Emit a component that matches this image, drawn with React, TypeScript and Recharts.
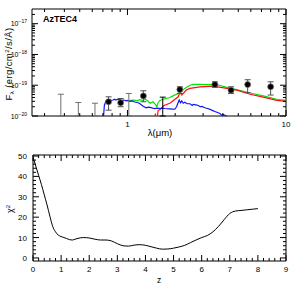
import React from "react";
import { ComposedChart, Line, Scatter, XAxis, YAxis, ErrorBar, ReferenceArea } from "recharts";

const FONT = "'Liberation Sans', Arial, sans-serif";

// ---- SED panel (wavelength in micron, flux in erg/cm2/s/A) ----
const blueLam = [0.7, 0.715, 0.73, 0.745, 0.76, 0.776, 0.79, 0.81, 0.83, 0.846, 0.87, 0.897, 0.92, 0.95, 0.98, 1.0, 1.04, 1.07, 1.1, 1.13, 1.17, 1.2, 1.25, 1.31, 1.35, 1.39, 1.44, 1.49, 1.55, 1.6, 1.66, 1.72, 1.78, 1.85, 1.92, 1.99, 2.04, 2.08, 2.12, 2.16, 2.2, 2.25, 2.3, 2.38, 2.48, 2.56, 2.6, 2.7, 2.8, 2.87, 2.95, 3.08, 3.2, 3.31, 3.45, 3.56, 3.7, 3.83, 3.95, 4.0, 4.12, 4.25, 4.37];
const blueFlux = [5e-21, 2.2e-20, 3.0e-20, 3.3e-20, 3.1e-20, 3.4e-20, 3.2e-20, 3.3e-20, 3.5e-20, 3.3e-20, 3.5e-20, 3.4e-20, 3.2e-20, 3.3e-20, 3.1e-20, 3.2e-20, 3.0e-20, 3.1e-20, 2.9e-20, 2.8e-20, 2.7e-20, 2.5e-20, 2.1e-20, 1.85e-20, 1.95e-20, 1.9e-20, 1.8e-20, 1.75e-20, 1.8e-20, 1.75e-20, 1.8e-20, 1.75e-20, 1.72e-20, 1.7e-20, 1.68e-20, 1.66e-20, 2.0e-20, 2.6e-20, 3.3e-20, 2.7e-20, 3.1e-20, 2.6e-20, 2.8e-20, 2.5e-20, 2.5e-20, 2.2e-20, 2.4e-20, 2.3e-20, 2.2e-20, 2.0e-20, 2.05e-20, 1.85e-20, 1.75e-20, 1.65e-20, 1.5e-20, 1.4e-20, 1.3e-20, 1.2e-20, 1.05e-20, 1.12e-20, 1.05e-20, 0.98e-20, 0.9e-20];

const greenLam = [1.0, 1.05, 1.1, 1.15, 1.2, 1.25, 1.3, 1.35, 1.39, 1.45, 1.5, 1.53, 1.56, 1.6, 1.68, 1.75, 1.85, 1.95, 2.09, 2.17, 2.25, 2.35, 2.48, 2.6, 2.87, 3.1, 3.48, 3.8, 4.23, 4.89, 5.93, 7.19, 8.74, 10];
const greenFlux = [3.1e-20, 3.2e-20, 3.3e-20, 3.1e-20, 3.4e-20, 3.2e-20, 3.5e-20, 3.0e-20, 2.6e-20, 2.9e-20, 2.4e-20, 2.0e-20, 2.7e-20, 3.2e-20, 3.5e-20, 3.7e-20, 4.0e-20, 4.6e-20, 5.4e-20, 6.0e-20, 7.2e-20, 8.5e-20, 1.0e-19, 1.06e-19, 1.07e-19, 1.05e-19, 1.07e-19, 1.0e-19, 0.85e-19, 0.72e-19, 0.56e-19, 0.45e-19, 0.35e-19, 0.32e-19];

const redLam = [1.47, 1.5, 1.53, 1.56, 1.6, 1.7, 1.85, 1.95, 2.09, 2.15, 2.2, 2.25, 2.35, 2.48, 2.87, 3.48, 4.23, 4.89, 5.93, 7.19, 8.74, 10];
const redFlux = [5e-21, 1.2e-20, 6e-21, 1.5e-20, 1.6e-20, 2.2e-20, 2.6e-20, 3.2e-20, 4.2e-20, 6.0e-20, 4.8e-20, 5.4e-20, 7.0e-20, 7.9e-20, 8.9e-20, 9.3e-20, 7.9e-20, 6.9e-20, 5.1e-20, 4.1e-20, 3.2e-20, 3.0e-20];

// detections: wavelength, flux, lower / upper error
const detLam = [0.76, 0.906, 1.26, 2.14, 3.56, 4.5, 5.73, 8.0];
const detFlux = [2.9e-20, 2.7e-20, 4.5e-20, 7.2e-20, 1.05e-19, 6.9e-20, 1.05e-19, 8.9e-20];
const detErrLo = [1.35e-20, 0.7e-20, 1.6e-20, 1.8e-20, 0.2e-19, 1.5e-20, 4.7e-20, 4.1e-20];
const detErrHi = [1.3e-20, 1.0e-20, 2.1e-20, 1.7e-20, 0.24e-19, 2.0e-20, 4.6e-20, 4.0e-20];

// upper limits (grey) and one black limit
const limLam = [0.38, 0.49, 0.624, 1.02];
const limTop = [5.1e-20, 2.75e-20, 2.6e-20, 5.4e-20];
const blackLimLam = [1.67];
const blackLimTop = [4.1e-20];

const FLOOR = 1e-20;
const sedXDomain = [0.25, 10];
const sedYDomain = [1e-20, 3e-17];
const sedXMajor = [1, 10];
const sedXTicks = [0.3, 0.4, 0.5, 0.6, 0.7, 0.8, 0.9, 1, 2, 3, 4, 5, 6, 7, 8, 9, 10];
const sedYMajor = [1e-20, 1e-19, 1e-18, 1e-17];
const sedYExp = ["−20", "−19", "−18", "−17"];
const sedYTicks = sedYMajor.flatMap((m) => [1, 2, 3, 4, 5, 6, 7, 8, 9].map((k) => m * k)).filter((v) => v <= 2.01e-17);

// ---- chi2 vs redshift panel ----
const zVals = [0, 0.1, 0.2, 0.3, 0.4, 0.5, 0.6, 0.7, 0.8, 0.9, 1.0, 1.1, 1.2, 1.3, 1.4, 1.5, 1.6, 1.8, 2.0, 2.2, 2.4, 2.6, 2.8, 3.0, 3.2, 3.4, 3.6, 3.8, 4.0, 4.2, 4.4, 4.6, 4.8, 5.0, 5.2, 5.4, 5.6, 5.8, 6.0, 6.2, 6.4, 6.6, 6.8, 7.0, 7.2, 7.4, 7.6, 7.8, 8.0];
const chiVals = [49.5, 45, 40.5, 36, 31, 26, 20.5, 15.5, 12.8, 11.2, 10.5, 10, 9.5, 9, 8.8, 9.2, 9.6, 10, 9.8, 9.2, 8.8, 8.8, 8.3, 7, 6, 5.8, 6.3, 6.5, 6.2, 5.5, 4.8, 4.3, 4.4, 4.8, 5.4, 6.2, 7.5, 8.8, 10, 11, 12.8, 15.5, 18.8, 21.8, 23, 23.3, 23.6, 23.9, 24.2];
const zMajor = [0, 1, 2, 3, 4, 5, 6, 7, 8, 9];
const zTicks = zMajor.flatMap((m) => (m < 9 ? [0, 0.2, 0.4, 0.6, 0.8].map((k) => m + k) : [m]));
const chiMajor = [0, 10, 20, 30, 40, 50];
const chiTicks = chiMajor.flatMap((m) => (m < 50 ? [0, 2, 4, 6, 8].map((k) => m + k) : [m]));

const SED = { left: 32, right: 286, top: 9, bottom: 116, height: 145 };
const CHI = { left: 33, right: 286, top: 10, bottom: 116, height: 150 };

const pts = (xs: number[], ys: number[]) => xs.map((x, i) => ({ x, y: ys[i] }));
const blueData = pts(blueLam, blueFlux);
const greenData = pts(greenLam, greenFlux);
const redData = pts(redLam, redFlux);
const detData = detLam.map((x, i) => ({ x, y: detFlux[i], err: [detErrLo[i], detErrHi[i]] }));
const limData = limLam.map((x, i) => ({ x, y: limTop[i], err: [limTop[i] - FLOOR, 0] }));
const blackLimData = blackLimLam.map((x, i) => ({ x, y: blackLimTop[i], err: [blackLimTop[i] - FLOOR, 0] }));
const chiData = pts(zVals, chiVals);

const near = (a: number, list: number[]) =>
  list.findIndex((m) => (m === 0 ? Math.abs(a) < 1e-9 : Math.abs(a - m) / Math.abs(m) < 1e-6));

function SedXTick(p: any) {
  const x = p.x;
  const v = p.payload.value;
  const major = near(v, sedXMajor) >= 0;
  const len = major ? 6 : 3;
  return (
    <g>
      <line x1={x} x2={x} y1={SED.bottom} y2={SED.bottom - len} stroke="#000" />
      <line x1={x} x2={x} y1={SED.top} y2={SED.top + len} stroke="#000" />
      {major && (
        <text x={x} y={SED.bottom + 11} textAnchor="middle" fontSize={8} fontFamily={FONT} fill="#000">
          {v}
        </text>
      )}
    </g>
  );
}

function SedYTick(p: any) {
  const y = p.y;
  const idx = near(p.payload.value, sedYMajor);
  const len = idx >= 0 ? 6 : 3;
  return (
    <g>
      <line x1={SED.left} x2={SED.left + len} y1={y} y2={y} stroke="#000" />
      <line x1={SED.right} x2={SED.right - len} y1={y} y2={y} stroke="#000" />
      {idx >= 0 && (
        <text x={SED.left - 5} y={y + 2.5} textAnchor="end" fontSize={7} fontFamily={FONT} fill="#000">
          10<tspan fontSize={5} dy={-3}>{sedYExp[idx]}</tspan>
        </text>
      )}
    </g>
  );
}

function ChiXTick(p: any) {
  const x = p.x;
  const v = p.payload.value;
  const major = near(v, zMajor) >= 0;
  const len = major ? 6 : 3;
  return (
    <g>
      <line x1={x} x2={x} y1={CHI.bottom} y2={CHI.bottom - len} stroke="#000" />
      <line x1={x} x2={x} y1={CHI.top} y2={CHI.top + len} stroke="#000" />
      {major && (
        <text x={x} y={CHI.bottom + 11} textAnchor="middle" fontSize={8} fontFamily={FONT} fill="#000">
          {Math.round(v)}
        </text>
      )}
    </g>
  );
}

function ChiYTick(p: any) {
  const y = p.y;
  const v = p.payload.value;
  const major = near(v, chiMajor) >= 0;
  const len = major ? 6 : 3;
  return (
    <g>
      <line x1={CHI.left} x2={CHI.left + len} y1={y} y2={y} stroke="#000" />
      <line x1={CHI.right} x2={CHI.right - len} y1={y} y2={y} stroke="#000" />
      {major && (
        <text x={CHI.left - 6} y={y + 3} textAnchor="end" fontSize={8} fontFamily={FONT} fill="#000">
          {Math.round(v)}
        </text>
      )}
    </g>
  );
}

const dot = (p: any) => <circle cx={p.cx} cy={p.cy} r={3} fill="#000" stroke="#777" strokeWidth={0.7} />;
const none = () => <g />;

export default function App() {
  return (
    <div style={{ position: "absolute", left: 0, top: 0, width: 302, height: 295, background: "#fff" }}>
      <div style={{ position: "absolute", left: 0, top: 0 }}>
        <ComposedChart
          width={302}
          height={SED.height}
          margin={{ top: SED.top, right: 302 - SED.right, left: 0, bottom: 0 }}
        >
          <XAxis
            type="number"
            dataKey="x"
            scale="log"
            domain={sedXDomain}
            allowDataOverflow
            ticks={sedXTicks}
            interval={0}
            height={SED.height - SED.bottom}
            tickSize={0}
            tickLine={false}
            axisLine={false}
            tick={(p: any) => <SedXTick {...p} />}
          />
          <YAxis
            type="number"
            dataKey="y"
            scale="log"
            domain={sedYDomain}
            allowDataOverflow
            ticks={sedYTicks}
            interval={0}
            width={SED.left}
            tickSize={0}
            tickLine={false}
            axisLine={false}
            tick={(p: any) => <SedYTick {...p} />}
          />
          <ReferenceArea x1={sedXDomain[0]} x2={sedXDomain[1]} y1={sedYDomain[0]} y2={sedYDomain[1]} fill="none" stroke="#000" strokeWidth={1} fillOpacity={0} />
          <Line data={greenData} dataKey="y" stroke="#00e600" strokeWidth={1.2} dot={false} isAnimationActive={false} />
          <Line data={redData} dataKey="y" stroke="#ff1010" strokeWidth={1.2} dot={false} isAnimationActive={false} />
          <Line data={blueData} dataKey="y" stroke="#1414ff" strokeWidth={1.2} dot={false} isAnimationActive={false} />
          <Scatter data={limData} dataKey="y" shape={none} isAnimationActive={false}>
            <ErrorBar dataKey="err" direction="y" width={3} stroke="#707070" strokeWidth={1} />
          </Scatter>
          <Scatter data={blackLimData} dataKey="y" shape={none} isAnimationActive={false}>
            <ErrorBar dataKey="err" direction="y" width={3} stroke="#000" strokeWidth={1} />
          </Scatter>
          <Scatter data={detData} dataKey="y" shape={dot} isAnimationActive={false}>
            <ErrorBar dataKey="err" direction="y" width={3} stroke="#505050" strokeWidth={1} />
          </Scatter>
        </ComposedChart>
      </div>
      <div style={{ position: "absolute", left: 0, top: SED.height }}>
        <ComposedChart
          width={302}
          height={CHI.height}
          data={chiData}
          margin={{ top: CHI.top, right: 302 - CHI.right, left: 0, bottom: 0 }}
        >
          <XAxis
            type="number"
            dataKey="x"
            domain={[0, 9]}
            allowDataOverflow
            ticks={zTicks}
            interval={0}
            height={CHI.height - CHI.bottom}
            tickSize={0}
            tickLine={false}
            axisLine={false}
            tick={(p: any) => <ChiXTick {...p} />}
          />
          <YAxis
            type="number"
            dataKey="y"
            domain={[-1.5, 50.5]}
            allowDataOverflow
            ticks={chiTicks}
            interval={0}
            width={CHI.left}
            tickSize={0}
            tickLine={false}
            axisLine={false}
            tick={(p: any) => <ChiYTick {...p} />}
          />
          <ReferenceArea x1={0} x2={9} y1={-1.5} y2={50.5} fill="none" stroke="#000" strokeWidth={1} fillOpacity={0} />
          <Line dataKey="y" type="monotone" stroke="#000" strokeWidth={1} dot={false} isAnimationActive={false} />
        </ComposedChart>
      </div>
      <svg width={302} height={295} style={{ position: "absolute", left: 0, top: 0, pointerEvents: "none" }} fontFamily={FONT}>
        <text x={43} y={22} fontSize={9} fontWeight="bold" fill="#000">AzTEC4</text>
        <text x={160} y={136} textAnchor="middle" fontSize={9.5} fill="#000">λ(μm)</text>
        <text transform="translate(12,64) rotate(-90)" textAnchor="middle" fontSize={9.5} letterSpacing={0.4} fill="#000">
          F<tspan fontSize={6} dy={2}>λ</tspan>
          <tspan dy={-2}> (erg/cm</tspan>
          <tspan fontSize={6} dy={-3}>2</tspan>
          <tspan dy={3}>/s/Å)</tspan>
        </text>
        <text x={159} y={283} textAnchor="middle" fontSize={8.5} fill="#000">z</text>
        <text transform="translate(13,209) rotate(-90)" textAnchor="middle" fontSize={9} fill="#000">
          χ<tspan fontSize={6} dy={-3}>2</tspan>
        </text>
      </svg>
    </div>
  );
}
